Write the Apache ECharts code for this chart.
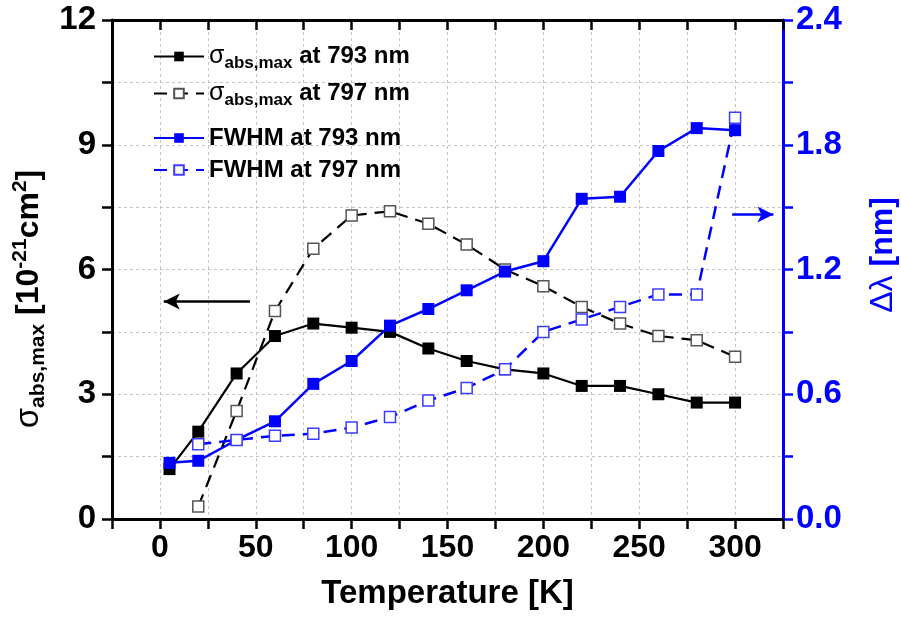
<!DOCTYPE html>
<html><head><meta charset="utf-8">
<script src="https://cdn.jsdelivr.net/npm/echarts@6/dist/echarts.min.js"></script>
<style>html,body{margin:0;padding:0;background:#fff}#c{width:901px;height:617px}</style>
</head><body><div id="c"></div>
<script>
// ---- data ----
const temps793 = [5, 20, 40, 60, 80, 100, 120, 140, 160, 180, 200, 220, 240, 260, 280, 300];
const sigma793 = [1.2, 2.1, 3.5, 4.4, 4.7, 4.6, 4.5, 4.1, 3.8, 3.6, 3.5, 3.2, 3.2, 3.0, 2.8, 2.8];
const fwhm793  = [0.27, 0.28, 0.38, 0.47, 0.65, 0.76, 0.93, 1.01, 1.10, 1.19, 1.24, 1.54, 1.55, 1.77, 1.88, 1.87];
const temps797 = [20, 40, 60, 80, 100, 120, 140, 160, 180, 200, 220, 240, 260, 280, 300];
const sigma797 = [0.3, 2.6, 5.0, 6.5, 7.3, 7.4, 7.1, 6.6, 6.0, 5.6, 5.1, 4.7, 4.4, 4.3, 3.9];
const fwhm797  = [0.36, 0.38, 0.40, 0.41, 0.44, 0.49, 0.57, 0.63, 0.72, 0.90, 0.96, 1.02, 1.08, 1.08, 1.93];
const seriesNames = ['sigma793', 'sigma797', 'fwhm793', 'fwhm797'];
const legendLabels = {
  sigma793: '{s|σ}{sub|abs,max}{t| at 793 nm}',
  sigma797: '{s|σ}{sub|abs,max}{t| at 797 nm}',
  fwhm793: '{t|FWHM at 793 nm}',
  fwhm797: '{t|FWHM at 797 nm}'
};
const xTickLabels = [0, 50, 100, 150, 200, 250, 300];
const leftArrow = [[47, 5.23], [2, 5.23]];
const rightArrow = [[298.5, 1.465], [320, 1.465]];

// ---- style ----
const BLUE = '#0000ff';
const SANS = "'Liberation Sans', Arial, sans-serif";
const pairs = (xs, ys) => xs.map((x, i) => [x, ys[i]]);
const isMult = (v, m) => Math.abs(v / m - Math.round(v / m)) < 1e-6;

const legendRich = {
  s: { fontFamily: SANS, fontSize: 25, fontWeight: 'normal', color: '#000', verticalAlign: 'middle' },
  sub: { fontFamily: SANS, fontSize: 17, fontWeight: 'bold', color: '#000', verticalAlign: 'middle', padding: [14, 0, 0, 0] },
  t: { fontFamily: SANS, fontSize: 24, fontWeight: 'bold', color: '#000', verticalAlign: 'middle' }
};
const legendTops = [44, 81, 126, 158];
const legends = seriesNames.map((n, i) => ({
  data: [n], left: 153, top: legendTops[i], padding: 0,
  itemWidth: 50, itemHeight: 12, selectedMode: false,
  formatter: name => legendLabels[name],
  textStyle: { rich: legendRich }
}));

const gridLine = { show: true, lineStyle: { color: '#c4c4c4', type: [3, 3], width: 1 } };

const option = {
  backgroundColor: '#fff',
  animation: false,
  grid: { left: 112, right: 118, top: 20, bottom: 98, containLabel: false, outerBoundsMode: 'none' },
  legend: legends,
  xAxis: [{
    type: 'value', min: -25, max: 325, interval: 25, position: 'bottom',
    axisLine: { show: true, onZero: false, lineStyle: { color: '#000', width: 3 } },
    axisTick: { show: true, inside: false, length: 10, lineStyle: { color: '#000', width: 2.5 } },
    axisLabel: {
      margin: 13, color: '#000', fontFamily: SANS, fontWeight: 'bold', fontSize: 32,
      formatter: v => (xTickLabels.some(t => Math.abs(t - v) < 1e-6) ? String(Math.round(v)) : '')
    },
    splitLine: gridLine,
    name: 'Temperature [K]', nameLocation: 'middle', nameGap: 58,
    nameTextStyle: { color: '#000', fontFamily: SANS, fontWeight: 'bold', fontSize: 33 }
  }, {
    type: 'value', min: -25, max: 325, interval: 25, position: 'top',
    axisLine: { show: true, onZero: false, lineStyle: { color: '#000', width: 3 } },
    axisTick: { show: true, inside: true, length: 10, lineStyle: { color: '#000', width: 2.5 } },
    axisLabel: { show: false }, splitLine: { show: false }
  }],
  yAxis: [{
    type: 'value', min: 0, max: 12, interval: 1.5, position: 'left',
    axisLine: { show: true, onZero: false, lineStyle: { color: '#000', width: 3 } },
    axisTick: { show: true, inside: false, length: 10, lineStyle: { color: '#000', width: 2.5 } },
    axisLabel: {
      margin: 16, color: '#000', fontFamily: SANS, fontWeight: 'bold', fontSize: 33,
      formatter: v => (isMult(v, 3) ? String(Math.round(v)) : '')
    },
    splitLine: gridLine,
    name: '{s|σ}{sub|abs,max}{m| [10}{sup|-21}{m|cm}{sup|2}{m|]}',
    nameLocation: 'middle', nameGap: 56,
    nameTextStyle: {
      padding: [0, 59, 0, 0],
      rich: {
        s: { fontFamily: SANS, fontSize: 33, color: '#000', verticalAlign: 'middle' },
        sub: { fontFamily: SANS, fontSize: 21, fontWeight: 'bold', color: '#000', verticalAlign: 'middle', padding: [18, 0, 0, 0] },
        m: { fontFamily: SANS, fontSize: 32, fontWeight: 'bold', color: '#000', verticalAlign: 'middle' },
        sup: { fontFamily: SANS, fontSize: 21, fontWeight: 'bold', color: '#000', verticalAlign: 'middle', padding: [0, 0, 18, 0] }
      }
    }
  }, {
    type: 'value', min: 0, max: 2.4, interval: 0.3, position: 'right',
    axisLine: { show: true, onZero: false, lineStyle: { color: BLUE, width: 3 } },
    axisTick: { show: true, inside: false, length: 10, lineStyle: { color: BLUE, width: 2.5 } },
    axisLabel: {
      margin: 13, color: BLUE, fontFamily: SANS, fontWeight: 'bold', fontSize: 33,
      formatter: v => (isMult(v, 0.6) ? v.toFixed(1) : '')
    },
    splitLine: { show: false },
    name: '{g|Δλ}{m| [nm]}',
    nameLocation: 'middle', nameGap: 84,
    nameTextStyle: {
      padding: [0, 0, 0, 29],
      rich: {
        g: { fontFamily: SANS, fontSize: 32, color: BLUE, verticalAlign: 'middle' },
        m: { fontFamily: SANS, fontSize: 32, fontWeight: 'bold', color: BLUE, verticalAlign: 'middle' }
      }
    }
  }],
  series: [{
    name: 'sigma793', type: 'line', xAxisIndex: 0, yAxisIndex: 0,
    data: pairs(temps793, sigma793),
    symbol: 'rect', symbolSize: 12,
    itemStyle: { color: '#000' },
    lineStyle: { color: '#000', width: 2.2 },
    markLine: {
      silent: true, symbol: ['none', 'arrow'], symbolSize: [12, 16],
      label: { show: false },
      lineStyle: { color: '#000', width: 2.5, type: 'solid' },
      data: [[{ coord: leftArrow[0] }, { coord: leftArrow[1] }]]
    }
  }, {
    name: 'sigma797', type: 'line', xAxisIndex: 0, yAxisIndex: 0,
    data: pairs(temps797, sigma797),
    symbol: 'rect', symbolSize: 11,
    itemStyle: { color: '#fff', borderColor: '#555', borderWidth: 1.5 },
    lineStyle: { color: '#000', width: 2.2, type: [13, 8] }
  }, {
    name: 'fwhm793', type: 'line', xAxisIndex: 0, yAxisIndex: 1,
    data: pairs(temps793, fwhm793),
    symbol: 'rect', symbolSize: 12,
    itemStyle: { color: BLUE },
    lineStyle: { color: BLUE, width: 2.5 },
    markLine: {
      silent: true, symbol: ['none', 'arrow'], symbolSize: [12, 16],
      label: { show: false },
      lineStyle: { color: BLUE, width: 2.5, type: 'solid' },
      data: [[{ coord: rightArrow[0] }, { coord: rightArrow[1] }]]
    }
  }, {
    name: 'fwhm797', type: 'line', xAxisIndex: 0, yAxisIndex: 1,
    data: pairs(temps797, fwhm797),
    symbol: 'rect', symbolSize: 11,
    itemStyle: { color: '#fff', borderColor: '#3c3cff', borderWidth: 1.5 },
    lineStyle: { color: BLUE, width: 2.5, type: [13, 8] }
  }]
};
const chart = echarts.init(document.getElementById('c'), null, { renderer: 'canvas' });
chart.setOption(option);
</script></body></html>
